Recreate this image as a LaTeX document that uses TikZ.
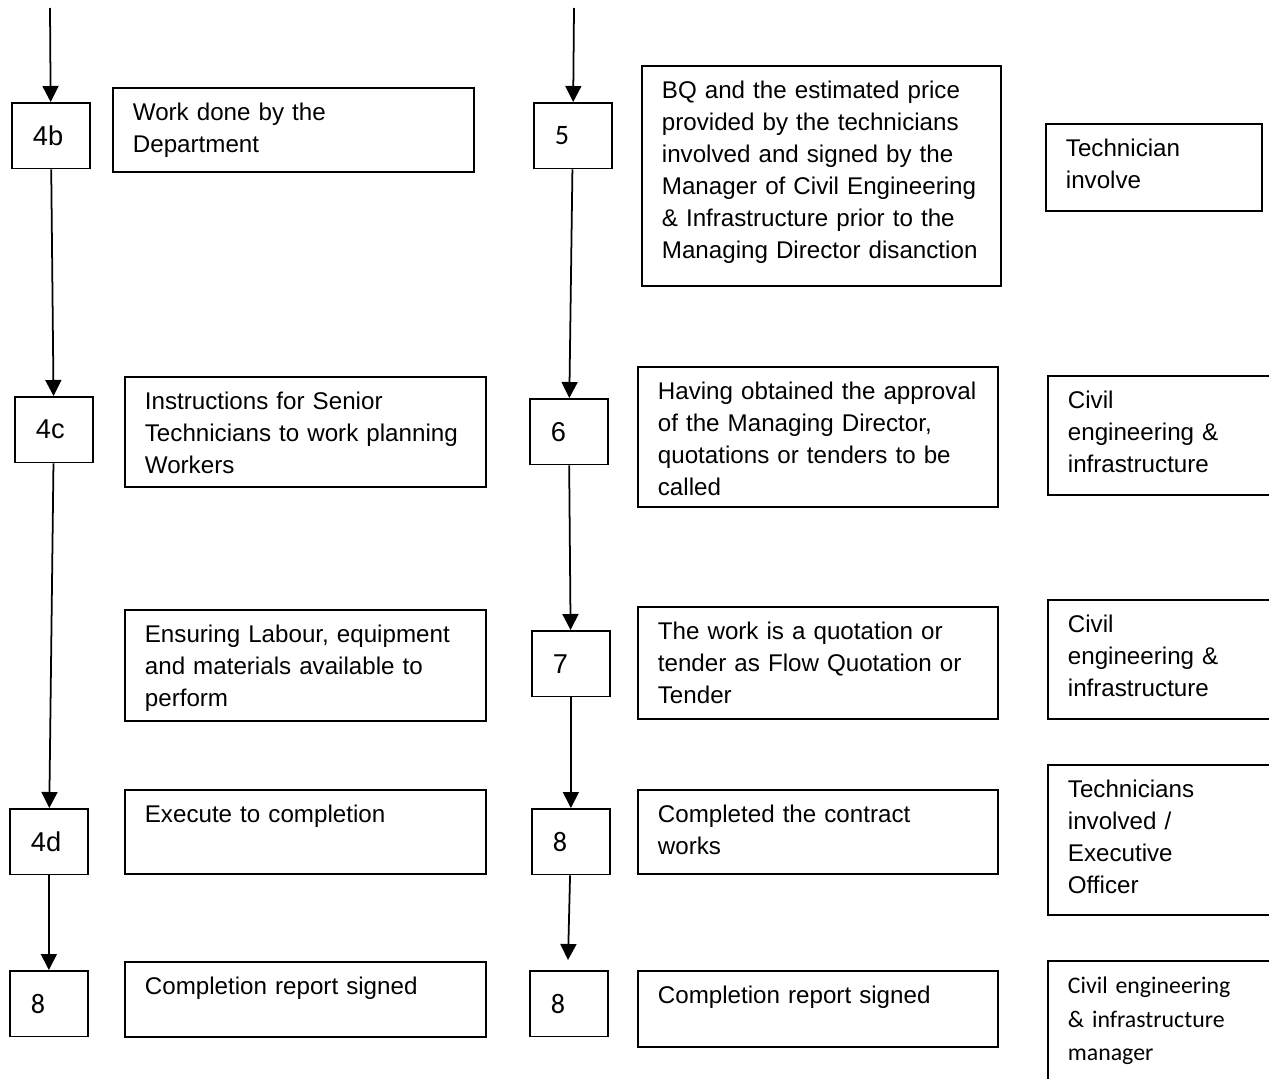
\documentclass[tikz,border=0pt]{standalone}
\usepackage{fontspec}
\setmainfont{Liberation Sans}
\newfontfamily\calibrifont{Carlito}
\usetikzlibrary{arrows.meta}

\begin{document}
\begin{tikzpicture}[x=0.2mm, y=-0.2mm]
    \tikzstyle{num box}=[
        draw = black,
        line width = 1pt,
        anchor = north west,
        align = left,
        text width = 7.2mm,
        inner xsep = 4.2mm,
        inner ysep = 0pt,
        minimum height = 13.1mm,
        font = \fontsize{15.5}{18.2}\selectfont
    ]
    \tikzstyle{cal num}=[
        num box,
        font = \calibrifont\fontsize{16}{18}\selectfont
    ]
    \tikzstyle{text box}=[
        draw = black,
        line width = 1pt,
        anchor = north west,
        align = left,
        inner xsep = 4mm,
        inner ysep = 2.6mm,
        text height = 4mm,
        font = \fontsize{13.75}{18.2}\selectfont
    ]
    \tikzstyle{flow}=[line width = 1pt, -{Triangle[width=3.2mm, length=3.2mm]}]

    \useasboundingbox (0,0) rectangle (1269,1078);
    \clip (0,0) rectangle (1269,1078);

    % left column
    \node[num box] (n4b) at (11, 102)  {4b};
    \node[num box] (n4c) at (14, 396)  {4c};
    \node[num box] (n4d) at (9, 808)   {4d};
    \node[cal num] (n8a) at (9, 970)   {8};

    \node[text box, text width=64.2mm, text depth=7.6mm]  (work)    at (112, 87)  {Work done by the\\Department};
    \node[text box, text width=64.2mm, text depth=12.8mm] (instr)   at (124, 376) {Instructions for Senior\\Technicians to work planning\\Workers};
    \node[text box, text width=64.2mm, text depth=13mm]   (labour)  at (124, 609) {Ensuring Labour, equipment\\and materials available to\\perform};
    \node[text box, text width=64.2mm, text depth=7.6mm]  (execute) at (124, 789) {Execute to completion};
    \node[text box, text width=64.2mm, text depth=5.8mm]  (reportA) at (124, 961) {Completion report signed};

    % middle column
    \node[cal num] (n5)  at (533, 102) {5};
    \node[num box] (n6)  at (529, 398) {6};
    \node[num box] (n7)  at (531, 630) {7};
    \node[cal num] (n8b) at (531, 808) {8};
    \node[cal num] (n8c) at (529, 970) {8};

    \node[text box, text width=63.8mm, text depth=34.8mm] (bq)       at (641, 65)  {BQ and the estimated price\\provided by the technicians\\involved and signed by the\\Manager of Civil Engineering\\\& Infrastructure prior to the\\Managing Director disanction};
    \node[text box, text width=64mm, text depth=18.8mm]   (approval) at (637, 366) {Having obtained the approval\\of the Managing Director,\\quotations or tenders to be\\called};
    \node[text box, text width=64mm, text depth=13.2mm]   (quote)    at (637, 606) {The work is a quotation or\\tender as Flow Quotation or\\Tender};
    \node[text box, text width=64mm, text depth=7.6mm]    (contract) at (637, 789) {Completed the contract\\works};
    \node[text box, text width=64mm, text depth=6mm]      (reportB)  at (637, 970) {Completion report signed};

    % right column
    \node[text box, text width=35.2mm, text depth=8.2mm]  (tech)  at (1045, 123) {Technician\\involve};
    \node[text box, text width=40.6mm, text depth=14.6mm] (civA)  at (1047, 375) {Civil\\engineering \&\\infrastructure};
    \node[text box, text width=40.6mm, text depth=14.6mm] (civB)  at (1047, 599) {Civil\\engineering \&\\infrastructure};
    \node[text box, text width=40.6mm, text depth=20.8mm] (exec)  at (1047, 764) {Technicians\\involved /\\Executive\\Officer};
    \node[text box, text width=40.6mm, text depth=18.8mm,
          font=\calibrifont\fontsize{13.55}{19}\selectfont] (mgr) at (1047, 960) {Civil engineering\\\& infrastructure\\manager};

    \coordinate (inL)  at (50, 8);
    \coordinate (inM)  at (574, 8);
    \coordinate (outM) at (568, 960);

    \path[flow] (inL) edge (n4b);
    \path[flow] (n4b) edge (n4c);
    \path[flow] (n4c) edge (n4d);
    \path[flow] (n4d) edge (n8a);

    \path[flow] (inM) edge (n5);
    \path[flow] (n5)  edge (n6);
    \path[flow] (n6)  edge (n7);
    \path[flow] (n7)  edge (n8b);
    \path[flow] (n8b) edge (outM);

\end{tikzpicture}
\end{document}
